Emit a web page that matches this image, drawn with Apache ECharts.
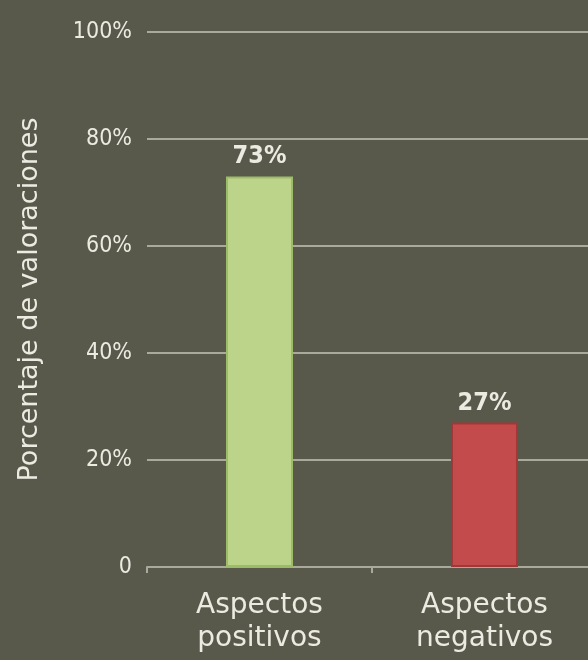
<!DOCTYPE html>
<html><head><meta charset="utf-8">
<script src="https://cdn.jsdelivr.net/npm/echarts@6/dist/echarts.min.js"></script>
<style>html,body{margin:0;padding:0;background:#58584b;}#c{width:588px;height:660px;}</style>
</head><body><div id="c"></div>
<script>
const categories = ['Aspectos\npositivos', 'Aspectos\nnegativos'];
const values = [73, 27];
const barColors = ['#bcd38a', '#c44b4b'];
const borderColors = ['#9cbc68', '#a33636'];
const yTicks = [0, 20, 40, 60, 80, 100];
const yTitle = 'Porcentaje de valoraciones';

const chart = echarts.init(document.getElementById('c'));
const cond = '"DejaVu Sans Condensed", "DejaVu Sans", sans-serif';
const wide = '"DejaVu Sans", sans-serif';
chart.setOption({
  backgroundColor: '#58584b',
  grid: {left: 147, right: -9, top: 32, bottom: 93, outerBoundsMode: 'none', containLabel: false},
  xAxis: {
    type: 'category', data: categories,
    axisLine: {lineStyle: {color: '#a9a99c', width: 2}},
    axisTick: {show: true, length: 6, lineStyle: {color: '#a9a99c', width: 2}},
    axisLabel: {color: '#ecebe2', fontFamily: wide, fontSize: 28, lineHeight: 33, margin: 22, interval: 0}
  },
  yAxis: {
    type: 'value', min: 0, max: 100, interval: 20,
    name: yTitle, nameLocation: 'middle', nameGap: 104, nameRotate: 90,
    nameTextStyle: {color: '#ecebe2', fontFamily: wide, fontSize: 27},
    axisLine: {show: false}, axisTick: {show: false},
    axisLabel: {color: '#ecebe2', fontFamily: cond, fontSize: 23, margin: 15,
      formatter: v => yTicks.includes(v) ? (v === 0 ? '0' : v + '%') : ''},
    splitLine: {lineStyle: {color: '#a9a99c', width: 2}}
  },
  series: [{
    type: 'bar', barWidth: 67,
    data: values.map((v, i) => ({value: v, itemStyle: {color: barColors[i], borderColor: borderColors[i], borderWidth: 2}})),
    label: {show: true, position: 'top', distance: 7, color: '#ecebe2', fontFamily: cond, fontSize: 25, fontWeight: 'bold', formatter: p => p.value + '%'}
  }]
});
</script></body></html>
